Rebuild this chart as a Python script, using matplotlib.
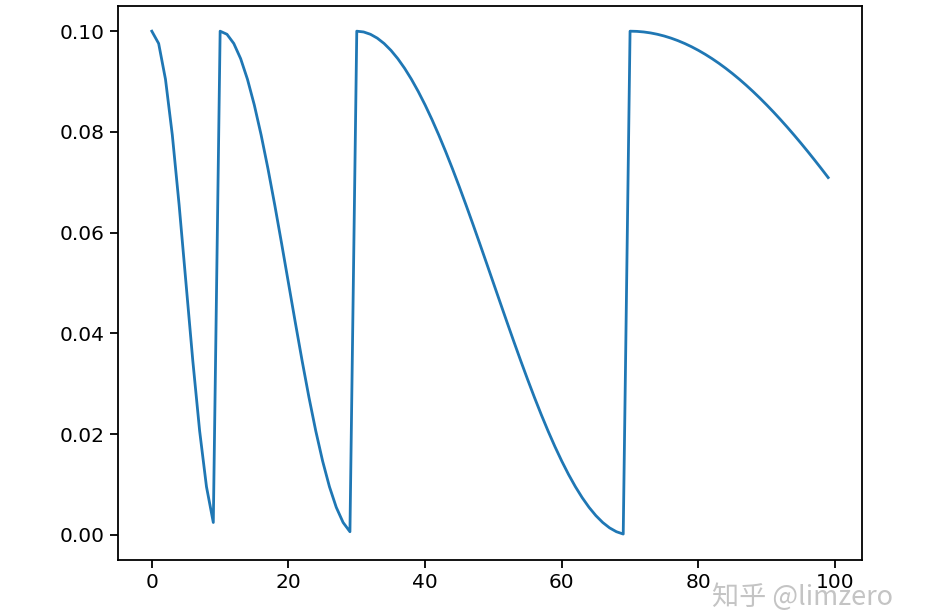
import matplotlib
matplotlib.use("Agg")
import matplotlib.pyplot as plt

epochs = list(range(100))
lr = [
    0.1, 0.097553, 0.090451, 0.079389, 0.065451, 0.05, 0.034549, 0.020611, 0.009549, 0.002447,
    0.1, 0.099384, 0.097553, 0.094550, 0.090451, 0.085355, 0.079389, 0.072700, 0.065451, 0.057822,
    0.05, 0.042178, 0.034549, 0.027300, 0.020611, 0.014645, 0.009549, 0.005450, 0.002447, 0.000616,
    0.1, 0.099846, 0.099384, 0.098618, 0.097553, 0.096194, 0.094550, 0.092632, 0.090451, 0.088020,
    0.085355, 0.082472, 0.079389, 0.076125, 0.072700, 0.069134, 0.065451, 0.061672, 0.057822, 0.053923,
    0.05, 0.046077, 0.042178, 0.038328, 0.034549, 0.030866, 0.027300, 0.023875, 0.020611, 0.017528,
    0.014645, 0.011980, 0.009549, 0.007368, 0.005450, 0.003806, 0.002447, 0.001382, 0.000616, 0.000154,
    0.1, 0.099961, 0.099846, 0.099653, 0.099384, 0.099039, 0.098618, 0.098123, 0.097553, 0.096910,
    0.096194, 0.095407, 0.094550, 0.093625, 0.092632, 0.091573, 0.090451, 0.089266, 0.088020, 0.086716,
    0.085355, 0.083940, 0.082472, 0.080955, 0.079389, 0.077779, 0.076125, 0.074431, 0.072700, 0.070933,
]
watermark = "知乎 @limzero"

plt.rcParams['font.family'] = ['DejaVu Sans', 'Noto Sans CJK SC']
fig = plt.figure(figsize=(9.41, 6.12), dpi=100)
ax = fig.add_axes([118/941, 1-560/612, (862-118)/941, (560-6)/612])
ax.plot(epochs, lr, color='#1f77b4', linewidth=2.0)
ax.set_xticks([0, 20, 40, 60, 80, 100])
ax.set_yticks([0.0, 0.02, 0.04, 0.06, 0.08, 0.10])
ax.set_yticklabels(['0.00', '0.02', '0.04', '0.06', '0.08', '0.10'])
ax.tick_params(labelsize=14.5, length=6, width=1.3)
for s in ax.spines.values():
    s.set_linewidth(1.3)
ax.set_xlim(-4.95, 103.95)
ax.set_ylim(-0.005, 0.105)
fig.text(0.757, 0.012, watermark, fontsize=19.5, color='#c4c4c4',
         family=['Noto Sans CJK SC', 'DejaVu Sans'], fontweight='light')
fig.savefig("out.png", dpi=100)
